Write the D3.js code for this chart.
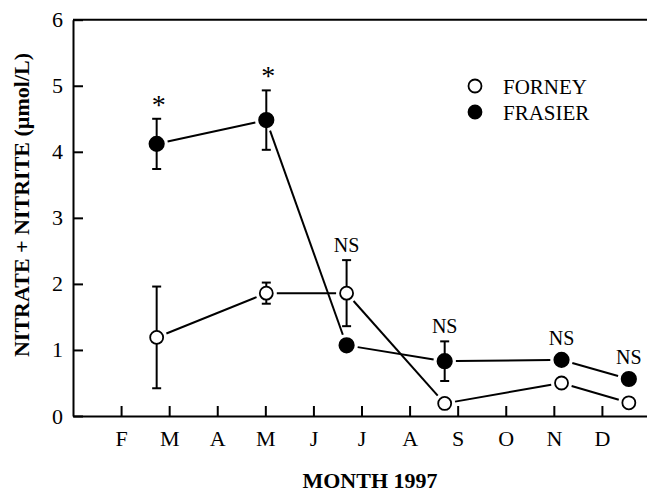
<!DOCTYPE html>
<html>
<head>
<meta charset="utf-8">
<script src="https://cdn.jsdelivr.net/npm/d3@7"></script>
<style>
  html, body { margin: 0; padding: 0; background: #fff; }
  svg, svg text { font-family: 'Liberation Serif', 'Times New Roman', serif; }
  svg { display: block; }
</style>
</head>
<body>
<div id="chart"></div>
<script>
// sampling dates in month units (Jan = 0)
const dates = [1.74, 4.02, 5.69, 7.73, 10.16, 11.56];
const forney = [1.19, 1.86, 1.86, 0.19, 0.50, 0.20];
const forneyErr = [0.77, 0.16, 0.50, 0, 0, 0];
const frasier = [4.12, 4.48, 1.07, 0.83, 0.85, 0.56];
const frasierErr = [0.38, 0.45, 0, 0.30, 0, 0];
const notes = ['*', '*', 'NS', 'NS', 'NS', 'NS'];

const monthTicks = [1, 2, 3, 4, 5, 6, 7, 8, 9, 10, 11];
const monthLabels = ['F', 'M', 'A', 'M', 'J', 'J', 'A', 'S', 'O', 'N', 'D'];
const yTicks = [0, 1, 2, 3, 4, 5, 6];

const W = 647, H = 493;
const FONT = "'Liberation Serif', 'Times New Roman', serif";
const svg = d3.select('#chart').append('svg')
  .attr('width', W).attr('height', H)
  .attr('font-family', FONT);

const x = d3.scaleLinear().domain([0, 12]).range([73, 650]);
const y = d3.scaleLinear().domain([0, 6]).range([416, 19.7]);

// axes (ticks point inward)
const xAxis = svg.append('g')
  .attr('transform', `translate(0,${y(0)})`)
  .call(d3.axisBottom(x).tickValues(monthTicks)
    .tickFormat((d, i) => monthLabels[i])
    .tickSizeInner(-10).tickSizeOuter(0).tickPadding(14));

const yAxis = svg.append('g')
  .attr('transform', `translate(${x(0)},0)`)
  .call(d3.axisLeft(y).tickValues(yTicks).tickFormat(d3.format('d'))
    .tickSizeInner(-10).tickSizeOuter(0).tickPadding(10));

[xAxis, yAxis].forEach(g => {
  g.attr('font-family', FONT).attr('font-size', 22);
  g.selectAll('path, line').attr('stroke', '#000').attr('stroke-width', 2);
  g.selectAll('text').attr('fill', '#000');
});

// top frame line
svg.append('line')
  .attr('x1', x(0)).attr('x2', x(12))
  .attr('y1', y(6)).attr('y2', y(6))
  .attr('stroke', '#000').attr('stroke-width', 2);

// axis titles
svg.append('text')
  .attr('x', 370).attr('y', 488)
  .attr('text-anchor', 'middle')
  .attr('font-size', 22).attr('font-weight', 'bold')
  .text('MONTH 1997');

svg.append('text')
  .attr('transform', 'translate(29,205) rotate(-90)')
  .attr('text-anchor', 'middle')
  .attr('font-size', 22).attr('font-weight', 'bold')
  .text('NITRATE + NITRITE (\u00b5mol/L)');

const series = [
  { vals: forney, err: forneyErr, fill: '#fff', r: 6.5 },
  { vals: frasier, err: frasierErr, fill: '#000', r: 7.2 }
];

// connecting lines, stopped short of the markers
series.forEach(s => {
  const segs = d3.pairs(d3.range(dates.length));
  svg.append('g').selectAll('line')
    .data(segs)
    .enter()
    .append('line')
    .each(function([a, b]) {
      const x1 = x(dates[a]), y1 = y(s.vals[a]);
      const x2 = x(dates[b]), y2 = y(s.vals[b]);
      const len = Math.hypot(x2 - x1, y2 - y1);
      const gap = s.r + 4;
      const ux = (x2 - x1) / len, uy = (y2 - y1) / len;
      d3.select(this)
        .attr('x1', x1 + ux * gap).attr('y1', y1 + uy * gap)
        .attr('x2', x2 - ux * gap).attr('y2', y2 - uy * gap);
    })
    .attr('stroke', '#000').attr('stroke-width', 2);
});

// error bars
series.forEach(s => {
  const g = svg.append('g');
  dates.forEach((d, i) => {
    if (!s.err[i]) return;
    const cx = x(d);
    const top = y(s.vals[i] + s.err[i]), bot = y(s.vals[i] - s.err[i]);
    g.append('line').attr('x1', cx).attr('x2', cx).attr('y1', top).attr('y2', bot);
    g.append('line').attr('x1', cx - 4.5).attr('x2', cx + 4.5).attr('y1', top).attr('y2', top);
    g.append('line').attr('x1', cx - 4.5).attr('x2', cx + 4.5).attr('y1', bot).attr('y2', bot);
  });
  g.selectAll('line').attr('stroke', '#000').attr('stroke-width', 2);
});

// markers
series.forEach(s => {
  svg.append('g').selectAll('circle')
    .data(s.vals)
    .enter()
    .append('circle')
    .attr('cx', (d, i) => x(dates[i]))
    .attr('cy', d => y(d))
    .attr('r', s.r)
    .attr('fill', s.fill)
    .attr('stroke', '#000')
    .attr('stroke-width', 1.8);
});

// significance notes above the highest mark at each date
notes.forEach((t, i) => {
  const tops = series.map(s => s.err[i] ? y(s.vals[i] + s.err[i]) : y(s.vals[i]) - s.r);
  const top = d3.min(tops);
  svg.append('text')
    .attr('x', x(dates[i]) + (t === '*' ? 2 : 0))
    .attr('y', t === '*' ? top - 5 : top - 8)
    .attr('text-anchor', 'middle')
    .attr('font-size', t === '*' ? 28 : 20)
    .text(t);
});

// legend
const legend = [
  { name: 'FORNEY', fill: '#fff' },
  { name: 'FRASIER', fill: '#000' }
];
legend.forEach((l, i) => {
  const ly = 86 + i * 26;
  svg.append('circle')
    .attr('cx', 475).attr('cy', ly).attr('r', 6.5)
    .attr('fill', l.fill).attr('stroke', '#000').attr('stroke-width', 1.8);
  svg.append('text')
    .attr('x', 503).attr('y', ly + 7.5)
    .attr('font-size', 21)
    .text(l.name);
});
</script>
</body>
</html>
